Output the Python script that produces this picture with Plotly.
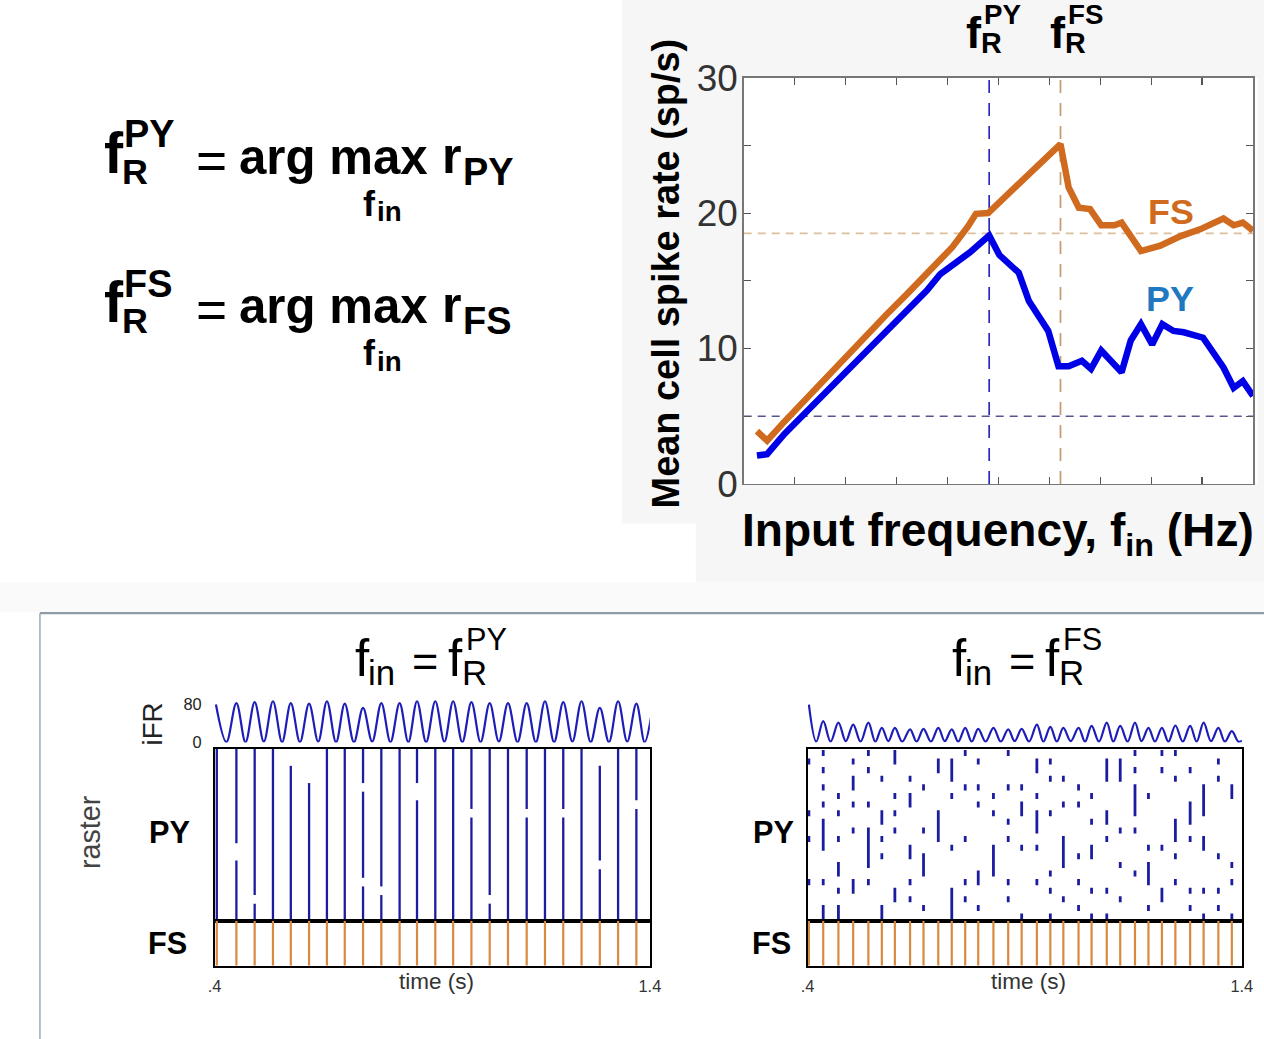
import plotly.graph_objects as go

W, H = 1264, 1039
SANS = "Liberation Sans, Arial, Helvetica, sans-serif"
# measured mapping from page pixels to the photographed picture (r = a + b * p)
AX, BX = 7.0, 0.9875
AY, BY = 17.4, 0.9645
FK = 1.025  # font size compensation

# ---------------- Tuning curves (top right) ----------------
fs_freq = [1.3, 2.3, 4, 6, 8, 10, 12, 14, 16, 18, 18.9, 20.5, 22, 22.8, 24.0, 26, 28, 30, 31.1,
           31.9, 32.9, 34.0, 35.1, 36.4, 37.1, 39.0, 40.9, 42.9, 44.8, 47.1, 48.1, 49.0, 50.0]
fs_rate = [3.9, 3.2, 4.6, 6.2, 7.7, 9.3, 10.9, 12.5, 14.0, 15.6, 16.3, 17.5, 19.0, 19.95, 20.0, 21.4, 22.9, 24.3, 25.1,
           21.9, 20.4, 20.3, 19.1, 19.1, 19.3, 17.2, 17.6, 18.3, 18.8, 19.6, 19.1, 19.3, 18.7]
py_freq = [1.3, 2.3, 4, 6, 8, 10, 12, 14, 16, 18, 19.3, 21, 22.2, 24.1, 25.1, 27.0, 28.0, 29.9, 30.9,
           31.9, 33.2, 34.1, 35.1, 37.1, 38.0, 39.0, 40.1, 41.1, 42.2, 43.2, 44.2, 45.1, 47.1, 48.1, 49.0, 50.0]
py_rate = [2.1, 2.2, 3.7, 5.2, 6.7, 8.2, 9.8, 11.3, 12.8, 14.3, 15.5, 16.4, 17.1, 18.35, 16.9, 15.6, 13.5, 11.3, 8.7,
           8.7, 9.1, 8.5, 9.85, 8.25, 10.6, 11.8, 10.3, 11.8, 11.3, 11.2, 11.0, 10.8, 8.6, 7.1, 7.6, 6.5]
f_R_PY = 24.1
f_R_FS = 31.1
hline_fs = 18.5
hline_py = 5.0
rate_ticks = [0, 10, 20, 30]
rate_ticktext = ["0", "10", "20", "30"]

# ---------------- Left raster: f_in = f_R^PY ----------------
left_cycle_t = [0.405, 0.450, 0.492, 0.534, 0.575, 0.617, 0.658, 0.699, 0.741, 0.783, 0.825, 0.865,
                0.907, 0.948, 0.990, 1.032, 1.074, 1.117, 1.159, 1.201, 1.243, 1.285, 1.327, 1.369]
left_missing = [(1, 11), (1, 12), (2, 17), (4, 0), (4, 1), (5, 0), (5, 1), (5, 2), (5, 3),
                (8, 4), (8, 15), (9, 16), (11, 4), (11, 5), (14, 7), (15, 17), (17, 7), (19, 7),
                (21, 0), (21, 1), (21, 13), (23, 6)]
left_ifr_peak_t = [0.403, 0.450, 0.492, 0.534, 0.575, 0.617, 0.658, 0.699, 0.741, 0.783, 0.825, 0.865,
                   0.907, 0.948, 0.990, 1.032, 1.074, 1.117, 1.159, 1.201, 1.243, 1.285, 1.327, 1.369]
left_ifr_peak_v = [80, 83, 85, 87, 83, 82, 87, 82, 73, 83, 83, 87, 87, 87, 85, 83, 83, 83, 87, 85, 87, 73, 87, 82]
left_ifr_trough_t = [0.427, 0.471, 0.513, 0.555, 0.596, 0.638, 0.679, 0.720, 0.762, 0.804, 0.845, 0.886,
                     0.928, 0.969, 1.011, 1.053, 1.096, 1.138, 1.180, 1.222, 1.264, 1.306, 1.348, 1.388]
left_ifr_trough_v = [1, 1, 2, 1, 1, 2, 1, 1, 2, 1, 1, 1, 2, 1, 1, 2, 1, 1, 1, 2, 1, 1, 2, 1]
left_ifr_end = (1.403, 55)

# ---------------- Right raster: f_in = f_R^FS ----------------
right_cycle_t = [0.403, 0.436, 0.471, 0.505, 0.540, 0.571, 0.601, 0.636, 0.667, 0.701, 0.732, 0.763,
                 0.793, 0.828, 0.862, 0.893, 0.928, 0.959, 0.989, 1.024, 1.054, 1.089, 1.120, 1.154,
                 1.185, 1.216, 1.247, 1.281, 1.312, 1.346, 1.377]
right_rows = [
    [1, 7, 10, 15],
    [0, 2, 4, 6, 8, 9, 10, 11, 15, 18, 19],
    [5, 7, 10, 13, 14, 16, 18, 19],
    [1, 3, 4, 6, 9, 15, 16],
    [0, 2, 6, 9, 10, 11, 12, 13, 15],
    [3, 7, 8, 10, 12, 18, 19],
    [0, 1, 5, 7, 9, 16, 17],
    [3, 5, 6, 11, 12, 15, 17],
    [4, 9, 12, 13, 14, 18],
    [1, 2, 7, 8, 9, 10],
    [1, 2, 3, 5, 11, 16, 17, 18, 19],
    [0, 4, 10, 15, 17],
    [1, 4, 6, 14, 15, 18],
    [5, 7, 11, 12, 13, 14],
    [0, 4, 8, 10, 15, 17],
    [4, 6, 7, 11, 19],
    [1, 2, 5, 7, 8, 9, 11, 15],
    [1, 3, 7, 14, 16, 19],
    [3, 6, 10, 11, 12, 13, 17],
    [4, 6, 12, 15, 18],
    [5, 8, 11, 12, 16, 19],
    [1, 2, 3, 7, 8, 10, 16, 19],
    [1, 2, 3, 9, 13, 17],
    [0, 2, 4, 5, 6, 7, 9, 14],
    [5, 11, 13, 14, 15, 18],
    [0, 2, 11, 16, 17],
    [0, 3, 8, 9, 10, 12, 15],
    [2, 6, 7, 8, 10, 16, 18],
    [4, 5, 6, 7, 10, 11, 16, 19],
    [1, 3, 12, 16, 18],
    [4, 5, 13, 15, 19],
]
right_ifr_peak_t = right_cycle_t
right_ifr_peak_v = [80, 45, 42, 38, 42, 31, 31, 28, 29, 31, 28, 31, 29, 31, 28, 29, 38, 33, 31, 31, 35,
                    42, 35, 42, 31, 31, 36, 35, 42, 31, 24]
right_ifr_trough_t = [0.420, 0.453, 0.488, 0.522, 0.556, 0.586, 0.618, 0.651, 0.684, 0.716, 0.747, 0.778,
                      0.810, 0.845, 0.877, 0.910, 0.943, 0.974, 1.006, 1.039, 1.071, 1.104, 1.137, 1.169,
                      1.200, 1.231, 1.264, 1.296, 1.329, 1.361, 1.392]
right_ifr_trough_v = [2, 2, 3, 2, 2, 3, 2, 2, 2, 3, 2, 2, 2, 2, 3, 2, 2, 2, 3, 2, 2, 2, 2, 3, 2, 2, 2, 2, 3, 2, 2]
right_ifr_end = (1.401, 4)

N_ROWS = 20
time_ticks = [0.4, 1.4]
time_ticktext = [".4", "1.4"]
ifr_ticks = [0, 80]
ifr_ticktext = ["0", "80"]

C_ORANGE = "#cf6a1e"
C_BLUE = "#0000e6"
C_RASTER = "#1c1ca0"
C_IFR = "#1d1db8"
C_FS = "#d98a3e"

fig = go.Figure()

fig.add_trace(go.Scatter(x=fs_freq, y=fs_rate, mode="lines", line=dict(color=C_ORANGE, width=6.5),
                         xaxis="x", yaxis="y", hoverinfo="skip"))
fig.add_trace(go.Scatter(x=py_freq, y=py_rate, mode="lines", line=dict(color=C_BLUE, width=6.5),
                         xaxis="x", yaxis="y", hoverinfo="skip"))


def ifr_points(pt, pv, tt, tv, end):
    pts = sorted(list(zip(pt, pv)) + list(zip(tt, tv)) + [end])
    return [p[0] for p in pts], [p[1] for p in pts]


def raster_segments(times, rows_per_cycle, inset):
    xs, ys = [], []
    for t, rows in zip(times, rows_per_cycle):
        runs = []
        for r in sorted(rows):
            if runs and r == runs[-1][1] + 1:
                runs[-1][1] = r
            else:
                runs.append([r, r])
        for a, b in runs:
            xs += [t, t, None]
            ys += [a + inset, b + 1 - inset, None]
    return xs, ys


def fs_stripes(times):
    xs, ys = [], []
    for t in times:
        xs += [t, t, None]
        ys += [0, 1, None]
    return xs, ys


lx, ly = ifr_points(left_ifr_peak_t, left_ifr_peak_v, left_ifr_trough_t, left_ifr_trough_v, left_ifr_end)
fig.add_trace(go.Scatter(x=lx, y=ly, mode="lines", line=dict(color=C_IFR, width=2.2, shape="spline", smoothing=1.0),
                         xaxis="x2", yaxis="y2", hoverinfo="skip"))
left_rows = []
for k in range(len(left_cycle_t)):
    miss = {r for (c, r) in left_missing if c == k}
    left_rows.append([r for r in range(N_ROWS) if r not in miss])
sx, sy = raster_segments(left_cycle_t, left_rows, 0.0)
fig.add_trace(go.Scatter(x=sx, y=sy, mode="lines", line=dict(color=C_RASTER, width=2.3),
                         xaxis="x3", yaxis="y3", hoverinfo="skip"))
fx, fy = fs_stripes(left_cycle_t)
fig.add_trace(go.Scatter(x=fx, y=fy, mode="lines", line=dict(color=C_FS, width=2.2),
                         xaxis="x4", yaxis="y4", hoverinfo="skip"))

rx, ry = ifr_points(right_ifr_peak_t, right_ifr_peak_v, right_ifr_trough_t, right_ifr_trough_v, right_ifr_end)
fig.add_trace(go.Scatter(x=rx, y=ry, mode="lines", line=dict(color=C_IFR, width=2.2, shape="spline", smoothing=1.0),
                         xaxis="x5", yaxis="y5", hoverinfo="skip"))
sx, sy = raster_segments(right_cycle_t, right_rows, 0.15)
fig.add_trace(go.Scatter(x=sx, y=sy, mode="lines", line=dict(color=C_RASTER, width=2.8),
                         xaxis="x6", yaxis="y6", hoverinfo="skip"))
fx, fy = fs_stripes(right_cycle_t)
fig.add_trace(go.Scatter(x=fx, y=fy, mode="lines", line=dict(color=C_FS, width=2.2),
                         xaxis="x7", yaxis="y7", hoverinfo="skip"))


def X(rx_):
    return ((rx_ - AX) / BX) / W


def Y(ry_):
    return 1 - ((ry_ - AY) / BY) / H


def DX(a, b):
    return [max(0.0, X(a)), min(1.0, X(b))]


def DY(top, bottom):
    return [max(0.0, Y(bottom)), min(1.0, Y(top))]


def fs(s):
    return round(s * FK, 1)


layout = dict(
    width=W, height=H, margin=dict(l=0, r=0, t=0, b=0),
    paper_bgcolor="white", plot_bgcolor="rgba(0,0,0,0)", showlegend=False,
    font=dict(family=SANS, color="#000"),
)

tick_common = dict(ticks="inside", ticklen=7, tickcolor="#555", tickwidth=1.2, showline=True, mirror="ticks",
                   linecolor="#777", linewidth=1.5, showgrid=False, zeroline=False, fixedrange=True)
layout["xaxis"] = dict(domain=DX(745, 1260), range=[0, 50], dtick=5, tick0=0, showticklabels=False,
                       anchor="y", **tick_common)
layout["yaxis"] = dict(domain=DY(75.3, 483.3), range=[0, 30], tickvals=rate_ticks, ticktext=rate_ticktext,
                       minor=dict(dtick=5, tick0=0, ticks="inside", ticklen=7, tickcolor="#555", tickwidth=1.2),
                       tickfont=dict(size=fs(36), color="#333", family=SANS), ticklabelstandoff=-3,
                       anchor="x", **tick_common)

box = dict(showline=True, mirror=True, linecolor="black", linewidth=2, showgrid=False, zeroline=False,
           ticks="", showticklabels=False, fixedrange=True)


def panel_axes(ix, x0, x1):
    a, b, c = ix, ix + 1, ix + 2
    layout[f"xaxis{a}"] = dict(domain=DX(x0, x1), range=[0.4, 1.4], visible=False, anchor=f"y{a}",
                               fixedrange=True)
    yax = dict(domain=DY(700, 743), range=[0, 90], showline=False, showgrid=False, zeroline=False,
               ticks="", anchor=f"x{a}", fixedrange=True)
    if ix == 2:
        yax.update(tickvals=ifr_ticks, ticktext=ifr_ticktext, tickfont=dict(size=fs(16), color="#222"),
                   ticklabelstandoff=12)
    else:
        yax.update(showticklabels=False)
    layout[f"yaxis{a}"] = yax
    layout[f"xaxis{b}"] = dict(domain=DX(x0, x1), range=[0.4, 1.4], anchor=f"y{b}", **box)
    layout[f"yaxis{b}"] = dict(domain=DY(749, 922), range=[N_ROWS, 0], anchor=f"x{b}", **box)
    fsx = dict(box)
    fsx.update(showticklabels=True, tickvals=time_ticks, ticktext=time_ticktext, ticks="outside",
               ticklen=5, tickcolor="rgba(0,0,0,0)", tickfont=dict(size=fs(16), color="#333"))
    layout[f"xaxis{c}"] = dict(domain=DX(x0, x1), range=[0.4, 1.4], anchor=f"y{c}", **fsx)
    layout[f"yaxis{c}"] = dict(domain=DY(922, 967), range=[0, 1], anchor=f"x{c}", **box)


panel_axes(2, 215, 651)
panel_axes(5, 809, 1244)

shapes = []


def rect(x0, y0, x1, y1, color):
    shapes.append(dict(type="rect", xref="paper", yref="paper", x0=X(x0), x1=X(x1), y0=Y(y1), y1=Y(y0),
                       fillcolor=color, line=dict(width=0), layer="below"))


rect(623, -30, 1290, 523, "#f6f6f6")
rect(697, 523, 1290, 582, "#f6f6f6")
rect(-20, 582, 1290, 612, "#fafafa")
rect(745, 75.3, 1260, 483.3, "#ffffff")
shapes.append(dict(type="line", xref="paper", yref="paper", x0=X(40), x1=X(1290), y0=Y(613), y1=Y(613),
                   line=dict(color="#8c9ba6", width=2.2), layer="below"))
shapes.append(dict(type="line", xref="paper", yref="paper", x0=X(40), x1=X(40), y0=Y(613), y1=Y(1080),
                   line=dict(color="#a3afb8", width=1.6), layer="below"))
shapes.append(dict(type="line", xref="x", yref="y", x0=0, x1=50, y0=hline_fs, y1=hline_fs,
                   line=dict(color="#dcc09c", width=1.6, dash="8px,6px"), layer="below"))
shapes.append(dict(type="line", xref="x", yref="y", x0=0, x1=50, y0=hline_py, y1=hline_py,
                   line=dict(color="#56568f", width=1.3, dash="8px,6px"), layer="below"))
shapes.append(dict(type="line", xref="x", yref="y", x0=f_R_PY, x1=f_R_PY, y0=0, y1=30,
                   line=dict(color="#2a2ab8", width=1.7, dash="13px,10px"), layer="below"))
shapes.append(dict(type="line", xref="x", yref="y", x0=f_R_FS, x1=f_R_FS, y0=0, y1=30,
                   line=dict(color="#c49a6c", width=1.7, dash="13px,10px"), layer="below"))
layout["shapes"] = shapes

anns = []


def txt(text, px, py, size, color="#000", weight="normal", xa="left", ya="middle", angle=0):
    anns.append(dict(text=text, x=X(px), y=Y(py), xref="paper", yref="paper", showarrow=False,
                     xanchor=xa, yanchor=ya, textangle=angle, borderpad=0,
                     font=dict(size=fs(size), color=color, family=SANS, weight=weight)))


for dy, lab in ((0, "PY"), (150, "FS")):
    txt("f", 103, 151 + dy, 56, weight="bold")
    txt(lab, 123, 132 + dy, 37, weight="bold")
    txt("R", 121, 170 + dy, 35, weight="bold")
    txt("=", 212, 158 + dy, 52, xa="center")
    txt("arg max", 238, 154 + dy, 48, weight="bold")
    txt("r", 442, 154 + dy, 49, weight="bold")
    txt(lab, 463, 170 + dy, 37, weight="bold")
    txt("f", 363, 202 + dy, 35, weight="bold")
    txt("in", 377, 210 + dy, 27, weight="bold")

txt("Mean cell spike rate (sp/s)", 667, 272, 37, weight="bold", xa="center", angle=-90)
txt("Input frequency, f<sub>in</sub> (Hz)", 1000, 533, 45, weight="bold", xa="center")
txt("FS", 1173, 210, 35, color=C_ORANGE, weight="bold", xa="center")
txt("PY", 1172, 298, 35, color="#1f78c0", weight="bold", xa="center")
for fx0, lab in ((967, "PY"), (1051, "FS")):
    txt("f", fx0, 30, 44, weight="bold")
    txt(lab, fx0 + 18, 12, 27, weight="bold")
    txt("R", fx0 + 15, 40, 28, weight="bold")

for x0, lab in ((355, "PY"), (953, "FS")):
    txt("f", x0, 659, 50)
    txt("in", x0 + 13, 673, 34)
    txt("=", x0 + 71, 661, 44, xa="center")
    txt("f", x0 + 93, 659, 50)
    txt(lab, x0 + 111, 639, 30)
    txt("R", x0 + 107, 673, 34)

txt("raster", 90, 833, 28, color="#444", xa="center", angle=-90)
txt("iFR", 153, 724, 27, color="#222", xa="center", angle=-90)
for xc in (170, 775):
    txt("PY", xc, 833, 30, weight="bold", xa="center")
    txt("FS", xc - 2, 945, 30, weight="bold", xa="center")
txt("time (s)", 437, 983, 22, color="#333", xa="center")
txt("time (s)", 1030, 983, 22, color="#333", xa="center")

layout["annotations"] = anns
fig.update_layout(**layout)

fig.write_html("out.html", config={"displayModeBar": False, "staticPlot": True},
               post_script="document.body.style.margin='0';document.body.style.overflow='hidden';")
